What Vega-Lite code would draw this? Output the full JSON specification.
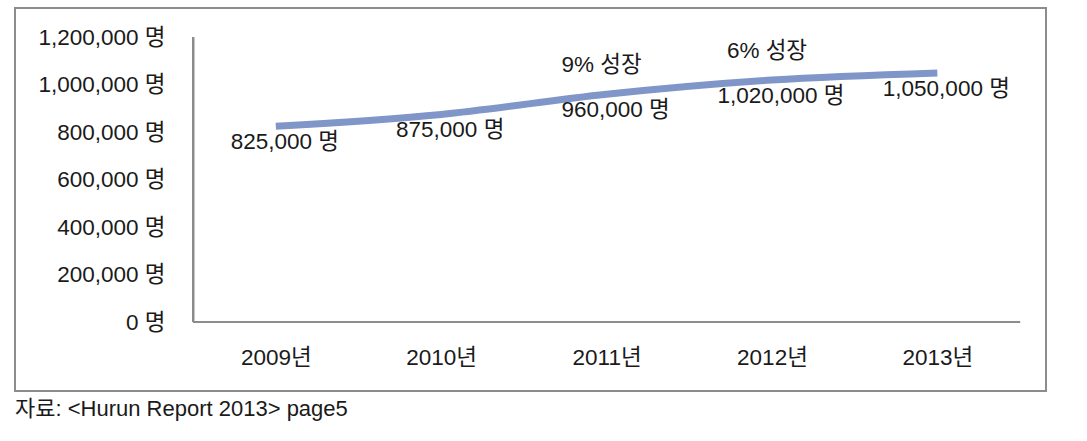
{
  "$schema": "https://vega.github.io/schema/vega-lite/v6.json",
  "autosize": {"type": "none"},
  "padding": {"left": 15, "top": 8, "right": 41, "bottom": 50},
  "width": 1031,
  "height": 383,
  "background": "white",
  "config": {
    "view": {"stroke": "#8c8c8c", "strokeWidth": 2},
    "font": "Liberation Sans, Noto Sans CJK KR, sans-serif"
  },
  "title": {
    "text": "자료: <Hurun Report 2013> page5",
    "orient": "bottom",
    "anchor": "start",
    "fontSize": 22,
    "fontWeight": "normal",
    "color": "#1a1a1a",
    "font": "Liberation Sans, Noto Sans CJK KR, sans-serif",
    "offset": 8
  },
  "data": {
    "values": [
      {"year": 2009, "people": 825000, "label": "825,000 명", "growth": null},
      {"year": 2010, "people": 875000, "label": "875,000 명", "growth": null},
      {"year": 2011, "people": 960000, "label": "960,000 명", "growth": "9% 성장"},
      {"year": 2012, "people": 1020000, "label": "1,020,000 명", "growth": "6% 성장"},
      {"year": 2013, "people": 1050000, "label": "1,050,000 명", "growth": null}
    ]
  },
  "encoding": {
    "x": {
      "field": "year",
      "type": "quantitative",
      "scale": {"domain": [2007.423, 2013.657], "nice": false, "zero": false},
      "axis": {
        "orient": "bottom",
        "offset": -69,
        "values": [2009, 2010, 2011, 2012, 2013],
        "labelExpr": "datum.value + '년'",
        "title": null,
        "grid": false,
        "ticks": false,
        "domain": false,
        "labelPadding": 24,
        "labelFontSize": 22.5,
        "labelColor": "#1a1a1a",
        "labelFont": "Liberation Sans, Noto Sans CJK KR, sans-serif"
      }
    },
    "y": {
      "field": "people",
      "type": "quantitative",
      "scale": {"domain": [-290830, 1323500], "nice": false, "zero": false},
      "axis": {
        "orient": "left",
        "offset": -178,
        "values": [0, 200000, 400000, 600000, 800000, 1000000, 1200000],
        "labelExpr": "format(datum.value, ',') + '  명'",
        "title": null,
        "grid": false,
        "ticks": false,
        "domain": false,
        "labelPadding": 28,
        "labelFontSize": 22.5,
        "labelColor": "#1a1a1a",
        "labelFont": "Liberation Sans, Noto Sans CJK KR, sans-serif"
      }
    }
  },
  "layer": [
    {
      "mark": {"type": "rule", "color": "#8c8c8c", "strokeWidth": 2},
      "encoding": {
        "x": {"datum": 2008.5},
        "y": {"datum": 0},
        "y2": {"datum": 1200000}
      }
    },
    {
      "mark": {"type": "rule", "color": "#8c8c8c", "strokeWidth": 2},
      "encoding": {
        "x": {"datum": 2008.5},
        "x2": {"datum": 2013.5},
        "y": {"datum": 0}
      }
    },
    {
      "mark": {"type": "line", "color": "#8096c8", "strokeWidth": 7, "interpolate": "monotone", "strokeCap": "butt"}
    },
    {
      "mark": {"type": "text", "fontSize": 22.5, "color": "#1a1a1a", "dx": 9, "dy": 16, "font": "Liberation Sans, Noto Sans CJK KR, sans-serif"},
      "encoding": {"text": {"field": "label"}}
    },
    {
      "transform": [{"filter": "datum.growth != null"}],
      "mark": {"type": "text", "fontSize": 22.5, "color": "#1a1a1a", "dx": -5, "dy": -29, "font": "Liberation Sans, Noto Sans CJK KR, sans-serif"},
      "encoding": {"text": {"field": "growth"}}
    }
  ]
}
